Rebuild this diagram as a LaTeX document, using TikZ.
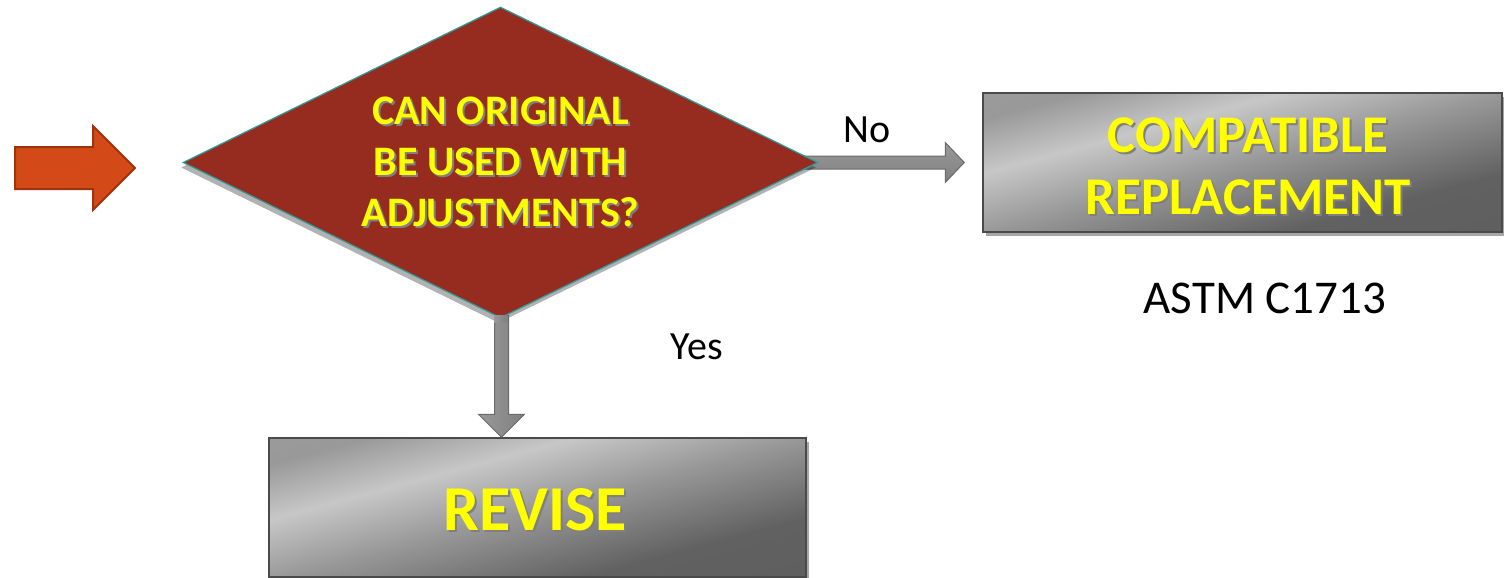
\documentclass[tikz,border=0pt]{standalone}
\usepackage{fontspec}
\setmainfont{Carlito}
\usetikzlibrary{shapes.geometric,shadows,calc}

\definecolor{diamondfill}{HTML}{962C1F}
\definecolor{diamondline}{HTML}{2E9E9C}
\definecolor{startfill}{HTML}{D34A18}
\definecolor{startline}{HTML}{9E3310}
\definecolor{boxline}{HTML}{4A4A4A}
\definecolor{arrowline}{HTML}{6A6A6A}
\definecolor{hiyellow}{HTML}{FFFF00}

% metallic grey sweep for the process boxes
\pgfdeclarehorizontalshading{metalgrey}{100bp}{%
  color(0bp)=(black!38); color(25bp)=(black!40); color(37bp)=(black!22);
  color(50bp)=(black!40); color(68bp)=(black!62); color(100bp)=(black!64)}

% yellow caption with a soft dark shadow behind it
\newcommand\shadowed[1]{\leavevmode\rlap{\kern2pt\raisebox{-2pt}{\color{black!50}#1}}#1}

\tikzset{
  procbox/.style={rectangle, draw=boxline, line width=1.5pt, shading=metalgrey,
    shading angle=-75, inner sep=0pt,
    drop shadow={shadow xshift=3pt, shadow yshift=-4pt, opacity=0.35, fill=black}},
  decision/.style={diamond, draw=diamondline, line width=1.2pt, fill=diamondfill,
    inner sep=0pt, drop shadow={shadow xshift=-2pt, shadow yshift=-5pt, opacity=0.3, fill=black}},
  yellowtext/.style={text=hiyellow, align=center},
  plain/.style={text=black, font=\fontsize{40}{48}\selectfont},
  hgrey/.style={draw=arrowline, line width=1pt, top color=black!40, middle color=black!15,
    bottom color=black!50},
  vgrey/.style={draw=arrowline, line width=1pt, left color=black!40, middle color=black!15,
    right color=black!50},
}

\begin{document}
\begin{tikzpicture}[x=1pt,y=-1pt]
\useasboundingbox (0,0) rectangle (1504,578);

% entry arrow
\node[inner sep=0pt, minimum size=0pt] (start) at (15,168) {};
\draw[draw=startline, fill=startfill, line width=2pt, line join=miter]
  (start.center) ++(0,-21) -- ++(78,0) -- ++(0,-21) -- ++(42,42) -- ++(-42,42)
  -- ++(0,-21) -- ++(-78,0) -- cycle;

% boxes
\node[procbox, minimum width=519pt, minimum height=139pt] (comp) at (1242.5,162.5) {};
\node[procbox, minimum width=537pt, minimum height=139pt] (rev) at (537.5,507.5) {};

% connectors (drawn under the decision)
\draw[hgrey, line join=miter] ($(comp.west)+(-18,0)$) coordinate (notip)
  ++(-19,-20) -- ++(0,13.5) -- ($(notip)+(-170,-6.5)$) -- ++(0,13) -- ($(notip)+(-19,6.5)$)
  -- ++(0,13.5) -- (notip) -- cycle;

\node[decision, minimum width=635pt, minimum height=311pt] (dia) at (500.5,162.5) {};

\draw[vgrey, line join=miter] ($(rev.north)+(-36,0)$) coordinate (yestip)
  ++(-23,-23) -- ++(16,0) -- ($(yestip)+(-7,-122)$) -- ++(14,0) -- ($(yestip)+(7,-23)$)
  -- ++(16,0) -- (yestip) -- cycle;
\draw[vgrey, draw=none, left color=black!40, middle color=black!15, right color=black!50]
  ($(dia.south)+(-6.5,-3)$) rectangle ($(dia.south)+(6.5,4)$);

% captions
\node[yellowtext, font=\fontsize{42}{51}\selectfont\bfseries] (q) at (dia.center)
  {\shadowed{CAN ORIGINAL}\\ \shadowed{BE USED WITH}\\ \shadowed{ADJUSTMENTS?}};
\node[yellowtext, font=\fontsize{53}{62}\selectfont\bfseries] (compt) at (1248,167)
  {\shadowed{COMPATIBLE}\\ \shadowed{REPLACEMENT}};
\node[yellowtext, font=\fontsize{64}{70}\selectfont\bfseries] (revt) at (535,511)
  {\shadowed{REVISE}};

\node[plain] (no) at (867,130) {No};
\node[plain] (yes) at (697,347) {Yes};
\node[plain, font=\fontsize{47}{56}\selectfont] (astm) at (1265,298) {ASTM C1713};
\end{tikzpicture}
\end{document}
